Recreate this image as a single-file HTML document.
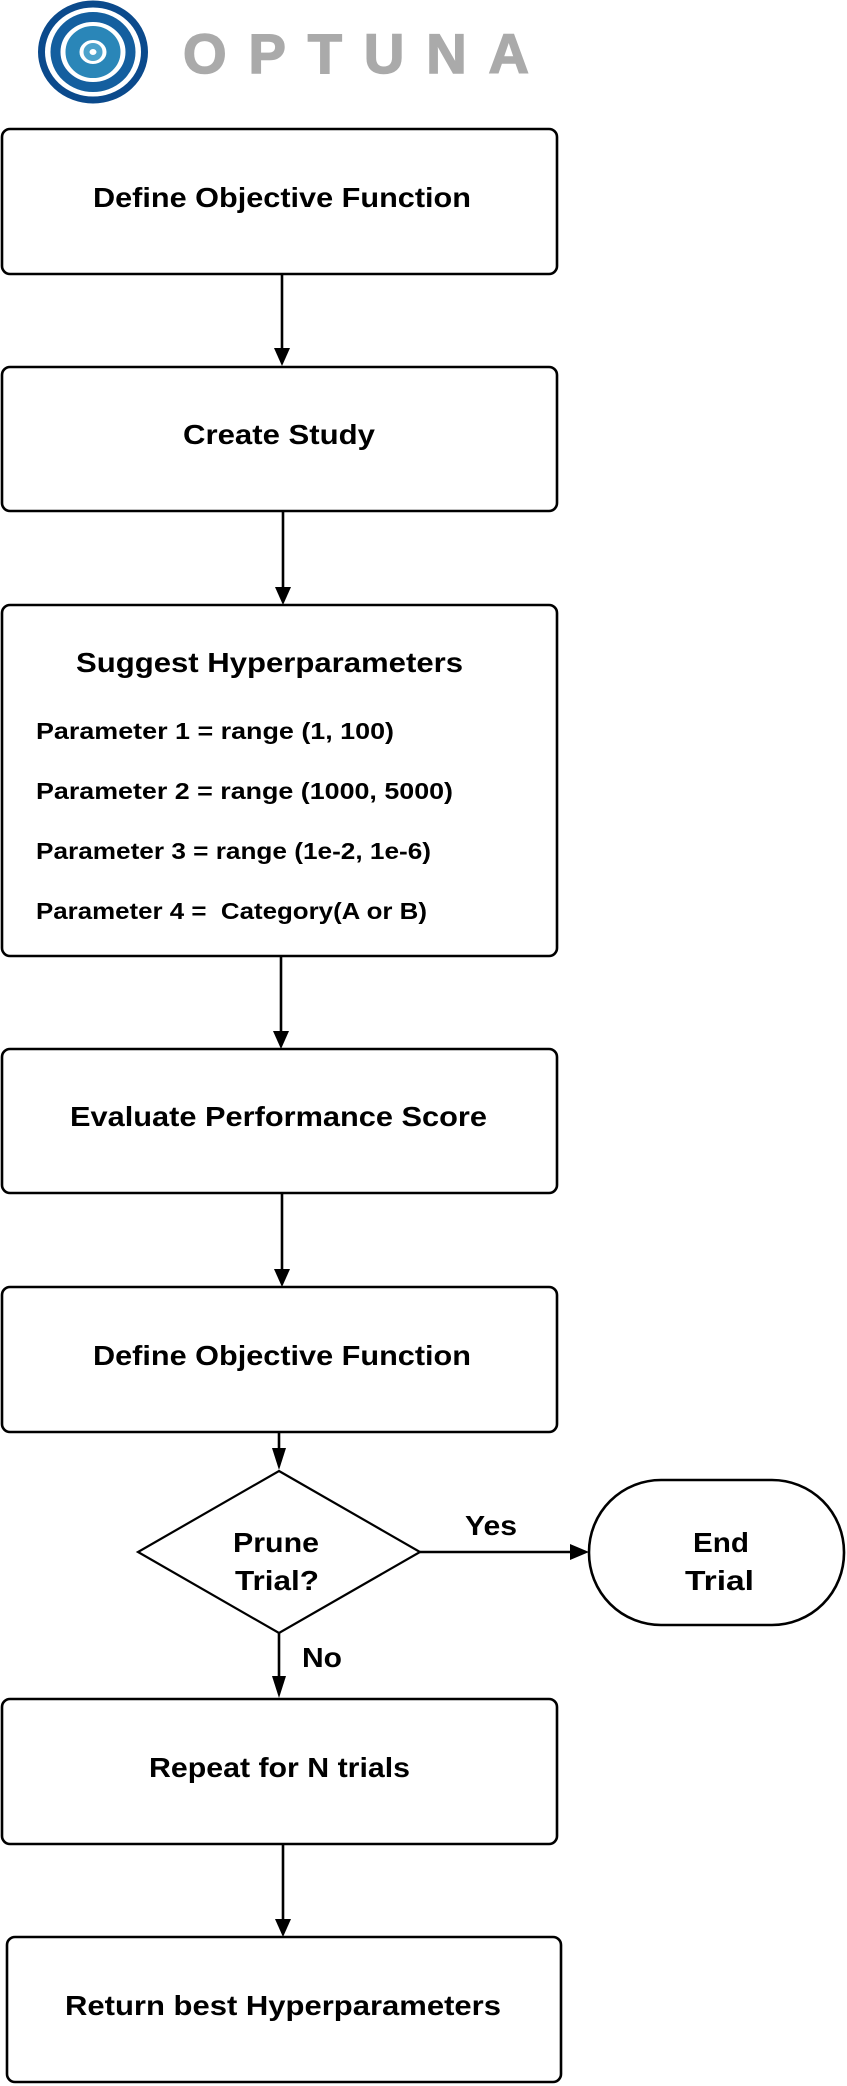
<!DOCTYPE html>
<html><head><meta charset="utf-8"><style>
html,body{margin:0;padding:0;background:#fff;}
svg{display:block;}
text{font-family:"Liberation Sans",sans-serif;font-weight:bold;fill:#000;}
</style></head><body>
<svg width="847" height="2086" viewBox="0 0 847 2086" xmlns="http://www.w3.org/2000/svg">
<!-- logo -->
<g fill="none">
<ellipse cx="93" cy="52" rx="51.5" ry="48" stroke="#0b4a8c" stroke-width="7"/>
<ellipse cx="93" cy="52" rx="37.5" ry="35" stroke="#145f9f" stroke-width="10"/>
<ellipse cx="93" cy="52" rx="20.5" ry="19" stroke="#2a86b8" stroke-width="14"/>
<ellipse cx="93" cy="52" rx="6.5" ry="6" stroke="#4da3cc" stroke-width="6"/>
</g>
<text x="183" y="73" font-size="56" textLength="346" lengthAdjust="spacing" style="fill:#aaaaaa;stroke:#aaaaaa;stroke-width:1.5">OPTUNA</text>

<g fill="#fff" stroke="#000" stroke-width="2.6">
<rect x="2" y="129" width="555" height="145" rx="8"/>
<rect x="2" y="367" width="555" height="144" rx="8"/>
<rect x="2" y="605" width="555" height="351" rx="8"/>
<rect x="2" y="1049" width="555" height="144" rx="8"/>
<rect x="2" y="1287" width="555" height="145" rx="8"/>
<rect x="2" y="1699" width="555" height="145" rx="8"/>
<rect x="7" y="1937" width="554" height="145" rx="8"/>
<polygon points="279,1471 420,1552 279,1633 138,1552" stroke-width="2.2"/>
<rect x="589" y="1480" width="255" height="145" rx="72"/>
</g>

<g stroke="#000" stroke-width="2.6" fill="none">
<line x1="282" y1="274" x2="282" y2="350"/>
<line x1="283" y1="511" x2="283" y2="589"/>
<line x1="281" y1="956" x2="281" y2="1033"/>
<line x1="282" y1="1193" x2="282" y2="1271"/>
<line x1="279" y1="1432" x2="279" y2="1450"/>
<line x1="420" y1="1552" x2="572" y2="1552"/>
<line x1="279" y1="1633" x2="279" y2="1680"/>
<line x1="283" y1="1844" x2="283" y2="1921"/>
</g>
<g fill="#000">
<polygon points="272,1448 286,1448 279,1470"/>
<polygon points="272,1676 286,1676 279,1698"/>
<polygon points="274,348 290,348 282,366"/>
<polygon points="275,587 291,587 283,605"/>
<polygon points="273,1031 289,1031 281,1049"/>
<polygon points="274,1269 290,1269 282,1287"/>
<polygon points="275,1919 291,1919 283,1937"/>
<polygon points="570,1544 570,1560 589,1552"/>
</g>

<text x="93" y="207" font-size="28" textLength="378" lengthAdjust="spacingAndGlyphs">Define Objective Function</text>
<text x="183" y="444" font-size="28" textLength="192" lengthAdjust="spacingAndGlyphs">Create Study</text>
<text x="76" y="672" font-size="28" textLength="387" lengthAdjust="spacingAndGlyphs">Suggest Hyperparameters</text>
<text x="36" y="739" font-size="23" textLength="358" lengthAdjust="spacingAndGlyphs">Parameter 1 = range (1, 100)</text>
<text x="36" y="799" font-size="23" textLength="417" lengthAdjust="spacingAndGlyphs">Parameter 2 = range (1000, 5000)</text>
<text x="36" y="859" font-size="23" textLength="395" lengthAdjust="spacingAndGlyphs">Parameter 3 = range (1e-2, 1e-6)</text>
<text x="36" y="919" font-size="23" textLength="391" lengthAdjust="spacingAndGlyphs" xml:space="preserve">Parameter 4 =  Category(A or B)</text>
<text x="70" y="1126" font-size="28" textLength="417" lengthAdjust="spacingAndGlyphs">Evaluate Performance Score</text>
<text x="93" y="1365" font-size="28" textLength="378" lengthAdjust="spacingAndGlyphs">Define Objective Function</text>
<text x="233" y="1552" font-size="28" textLength="86" lengthAdjust="spacingAndGlyphs">Prune</text>
<text x="235" y="1590" font-size="28" textLength="84" lengthAdjust="spacingAndGlyphs">Trial?</text>
<text x="693" y="1552" font-size="28" textLength="56" lengthAdjust="spacingAndGlyphs">End</text>
<text x="685" y="1590" font-size="28" textLength="69" lengthAdjust="spacingAndGlyphs">Trial</text>
<text x="465" y="1535" font-size="28" textLength="52" lengthAdjust="spacingAndGlyphs">Yes</text>
<text x="302" y="1667" font-size="28" textLength="40" lengthAdjust="spacingAndGlyphs">No</text>
<text x="149" y="1777" font-size="28" textLength="261" lengthAdjust="spacingAndGlyphs">Repeat for N trials</text>
<text x="65" y="2015" font-size="28" textLength="436" lengthAdjust="spacingAndGlyphs">Return best Hyperparameters</text>
</svg>
</body></html>
